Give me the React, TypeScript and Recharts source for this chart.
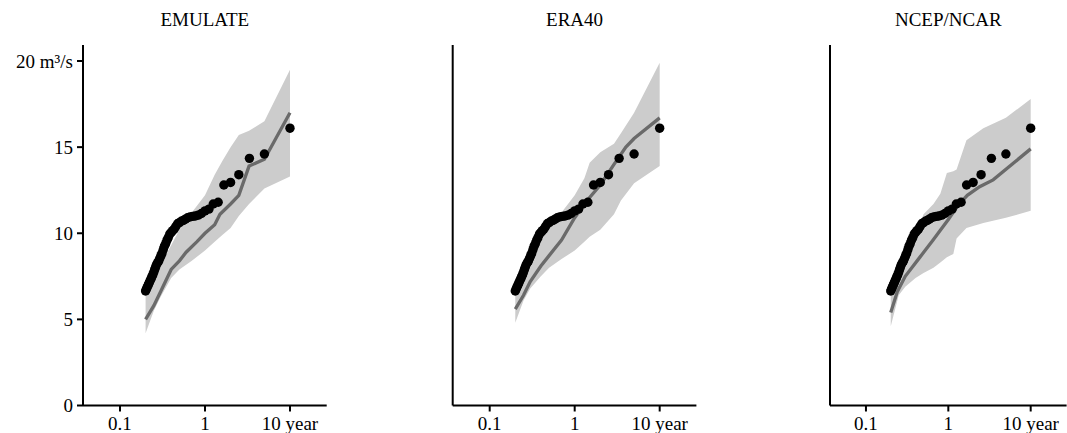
import React from "react";
import { ComposedChart, XAxis, YAxis, Area, Line, Scatter } from "recharts";

// Observed return periods (years) and flows (m³/s)
const obsT = [10, 5, 3.333, 2.5, 2, 1.667, 1.429, 1.25, 1.111, 1, 0.909, 0.833, 0.769, 0.714, 0.667, 0.625, 0.588, 0.556, 0.526, 0.5, 0.476, 0.455, 0.435, 0.417, 0.4, 0.385, 0.37, 0.357, 0.345, 0.333, 0.323, 0.3125, 0.303, 0.294, 0.286, 0.278, 0.27, 0.263, 0.256, 0.25, 0.244, 0.238, 0.233, 0.227, 0.222, 0.217, 0.213, 0.208, 0.204, 0.2];
const obsV = [16.1, 14.6, 14.35, 13.4, 12.95, 12.8, 11.8, 11.7, 11.4, 11.3, 11.15, 11.05, 11.0, 10.98, 10.95, 10.9, 10.82, 10.75, 10.7, 10.62, 10.55, 10.4, 10.25, 10.15, 10.05, 9.95, 9.75, 9.6, 9.4, 9.25, 9.05, 8.85, 8.7, 8.55, 8.4, 8.3, 8.2, 8.05, 7.9, 7.75, 7.6, 7.5, 7.38, 7.27, 7.15, 7.05, 6.95, 6.85, 6.75, 6.65];

// EMULATE
const emuBandT = [0.2, 0.25, 0.3, 0.4, 0.5, 0.7, 1.0, 1.3, 1.6, 2.0, 2.5, 3.3, 5.0, 10];
const emuBandLo = [4.2, 5.5, 6.3, 7.4, 7.9, 8.4, 9.0, 9.5, 9.9, 10.3, 11.0, 11.7, 12.6, 13.3];
const emuBandHi = [6.4, 7.3, 8.2, 9.3, 10.2, 11.2, 12.2, 13.4, 14.2, 15.0, 15.7, 15.95, 16.5, 19.5];
const emuLineT = [0.2, 0.25, 0.3, 0.4, 0.5, 0.6, 0.8, 1.0, 1.3, 1.5, 2.0, 2.5, 3.3, 5.0, 10];
const emuLineV = [5.0, 5.8, 6.6, 7.9, 8.4, 8.9, 9.5, 10.0, 10.5, 11.1, 11.7, 12.2, 13.9, 14.3, 17.0];

// ERA40
const eraBandT = [0.2, 0.25, 0.3, 0.4, 0.5, 0.7, 1.0, 1.3, 1.5, 2.0, 2.9, 3.5, 5.0, 10];
const eraBandLo = [4.8, 6.1, 6.8, 7.5, 8.0, 8.5, 9.0, 9.5, 9.8, 10.2, 11.1, 11.9, 12.9, 13.9];
const eraBandHi = [6.6, 7.5, 8.4, 9.5, 10.4, 11.2, 12.2, 13.2, 14.1, 14.7, 15.2, 15.8, 17.0, 19.9];
const eraLineT = [0.2, 0.25, 0.3, 0.4, 0.5, 0.7, 1.0, 1.4, 2.0, 2.9, 4.0, 5.0, 10];
const eraLineV = [5.6, 6.4, 7.2, 8.1, 8.7, 9.6, 10.9, 11.9, 12.8, 14.0, 15.0, 15.5, 16.7];

// NCEP/NCAR
const ncepBandT = [0.2, 0.25, 0.3, 0.4, 0.5, 0.66, 0.8, 0.96, 1.15, 1.26, 1.66, 2.66, 5.0, 10];
const ncepBandLo = [4.6, 6.4, 6.9, 7.4, 7.7, 8.0, 8.3, 8.6, 8.8, 9.7, 10.3, 10.6, 10.9, 11.3];
const ncepBandHi = [6.8, 7.8, 8.7, 9.9, 11.1, 11.7, 12.3, 13.5, 13.6, 13.7, 15.4, 16.1, 16.7, 17.8];
const ncepLineT = [0.2, 0.24, 0.3, 0.45, 0.65, 1.0, 1.3, 1.7, 2.4, 3.5, 10];
const ncepLineV = [5.4, 6.6, 7.5, 8.6, 9.6, 10.8, 11.6, 12.2, 12.7, 13.1, 14.9];

const titles = ["EMULATE", "ERA40", "NCEP/NCAR"];
const xTicks = [0.1, 1, 10];
const yTicks = [0, 5, 10, 15, 20];

const FONT = "'Liberation Serif', 'Times New Roman', serif";

const obsData = obsT.map((t, i) => ({ t, v: obsV[i] }));
const band = (T: number[], lo: number[], hi: number[]) => T.map((t, i) => ({ t, range: [lo[i], hi[i]] }));
const line = (T: number[], V: number[]) => T.map((t, i) => ({ t, v: V[i] }));

const panels = [
  { title: titles[0], band: band(emuBandT, emuBandLo, emuBandHi), line: line(emuLineT, emuLineV), left: 0, width: 340, yw: 83, right: 13.3, domain: [0.0367, 27.04], labels: true },
  { title: titles[1], band: band(eraBandT, eraBandLo, eraBandHi), line: line(eraLineT, eraLineV), left: 370, width: 340, yw: 82.7, right: 13.6, domain: [0.0367, 27.04], labels: false },
  { title: titles[2], band: band(ncepBandT, ncepBandLo, ncepBandHi), line: line(ncepLineT, ncepLineV), left: 747, width: 320, yw: 83, right: 0.4, domain: [0.0366, 27.29], labels: false },
];

const Dot = (props: any) => <circle cx={props.cx} cy={props.cy} r={4.7} fill="#000" />;

function Panel(p: any) {
  const plotLeft = p.left + p.yw;
  const plotRight = p.left + p.width - p.right;
  const center = (plotLeft + plotRight) / 2;
  return (
    <>
      <div style={{ position: "absolute", left: center - 100, top: 8, width: 200, textAlign: "center", fontFamily: FONT, fontSize: 19, lineHeight: "24px", color: "#000" }}>
        {p.title}
      </div>
      <div style={{ position: "absolute", left: p.left, top: 0 }}>
        <ComposedChart width={p.width} height={433} margin={{ top: 45, right: p.right, bottom: 0, left: 0 }}>
          <XAxis
            type="number"
            dataKey="t"
            scale="log"
            domain={p.domain}
            allowDataOverflow
            ticks={xTicks}
            height={27.5}
            tickSize={6}
            tickMargin={5}
            axisLine={{ stroke: "#000", strokeWidth: 2 }}
            tickLine={{ stroke: "#000", strokeWidth: 2 }}
            tick={{ fill: "#000", fontFamily: FONT, fontSize: 19 }}
            tickFormatter={(v: number) => (v === 10 ? "10 year" : String(v))}
            interval={0}
          />
          <YAxis
            type="number"
            dataKey="v"
            domain={[0, 20.93]}
            allowDataOverflow
            ticks={yTicks}
            width={p.yw}
            tickSize={6}
            tickMargin={4}
            axisLine={{ stroke: "#000", strokeWidth: 2 }}
            tickLine={{ stroke: "#000", strokeWidth: 2 }}
            tick={p.labels ? { fill: "#000", fontFamily: FONT, fontSize: 19 } : false}
            tickFormatter={(v: number) => (v === 20 ? "20 m³/s" : String(v))}
            interval={0}
          />
          <Area data={p.band} dataKey="range" type="linear" stroke="none" fill="#cccccc" fillOpacity={1} isAnimationActive={false} />
          <Line data={p.line} dataKey="v" type="linear" stroke="#6a6a6a" strokeWidth={3.3} dot={false} isAnimationActive={false} />
          <Scatter data={obsData} dataKey="v" shape={Dot} isAnimationActive={false} />
        </ComposedChart>
      </div>
    </>
  );
}

export default function App() {
  return (
    <div style={{ position: "absolute", left: 0, top: 0, width: 1067, height: 433, background: "#fff", overflow: "hidden" }}>
      {panels.map((p, i) => (
        <Panel key={i} {...p} />
      ))}
    </div>
  );
}
